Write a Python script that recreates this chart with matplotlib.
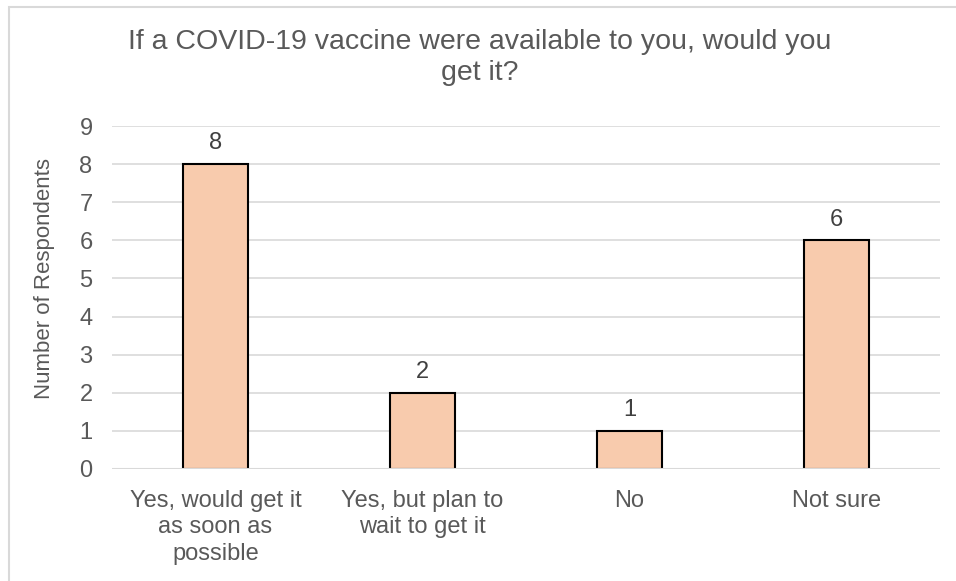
import matplotlib.pyplot as plt
from matplotlib.patches import Rectangle

plt.rcParams['font.family'] = ['Liberation Sans', 'DejaVu Sans']

# 数据
categories = ['Yes, would get it\nas soon as\npossible', 'Yes, but plan to\nwait to get it', 'No', 'Not sure']
counts = [8, 2, 1, 6]

text_color = '#595959'
grid_color = '#D9D9D9'
bar_color = '#F8CBAD'

fig = plt.figure(figsize=(9.56, 5.81), dpi=100)
ax = fig.add_axes([0.1172, 0.1928, 0.8661, 0.5903])

x = range(len(categories))
bars = ax.bar(x, counts, width=0.31, color=bar_color, edgecolor='black', linewidth=1.5, zorder=2)

# 数值标签
for b, v in zip(bars, counts):
    ax.annotate(str(v), (b.get_x() + b.get_width() / 2, v), xytext=(0, 7),
                textcoords='offset points', ha='center', va='bottom',
                fontsize=17, color='#404040')

ax.set_xlim(-0.5, len(categories) - 0.5)
ax.set_ylim(0, 9)
ax.set_yticks(range(0, 10))
ax.set_xticks(list(x))
ax.set_xticklabels(categories, fontsize=17, color=text_color, linespacing=1.27)
ax.tick_params(axis='y', labelsize=17, labelcolor=text_color, length=0, pad=14)
ax.tick_params(axis='x', length=0, pad=15)
ax.grid(axis='y', color=grid_color, linewidth=1.2, zorder=0)
ax.set_axisbelow(True)
for s in ax.spines.values():
    s.set_visible(False)
ax.axhline(0, color=grid_color, linewidth=1.5, zorder=3)

ax.set_ylabel('Number of Respondents', fontsize=16, color=text_color)
ax.yaxis.set_label_coords(-0.069, 0.554)

fig.text(0.502, 0.901, 'If a COVID-19 vaccine were available to you, would you\nget it?',
         ha='center', va='center', fontsize=20.5, color=text_color, linespacing=1.28)

# 图表外框
fig.patches.append(Rectangle((0.0089, -0.1), 1.2, 1.0887, transform=fig.transFigure,
                             fill=False, edgecolor=grid_color, linewidth=1.5))

fig.savefig('out.png', dpi=100)
